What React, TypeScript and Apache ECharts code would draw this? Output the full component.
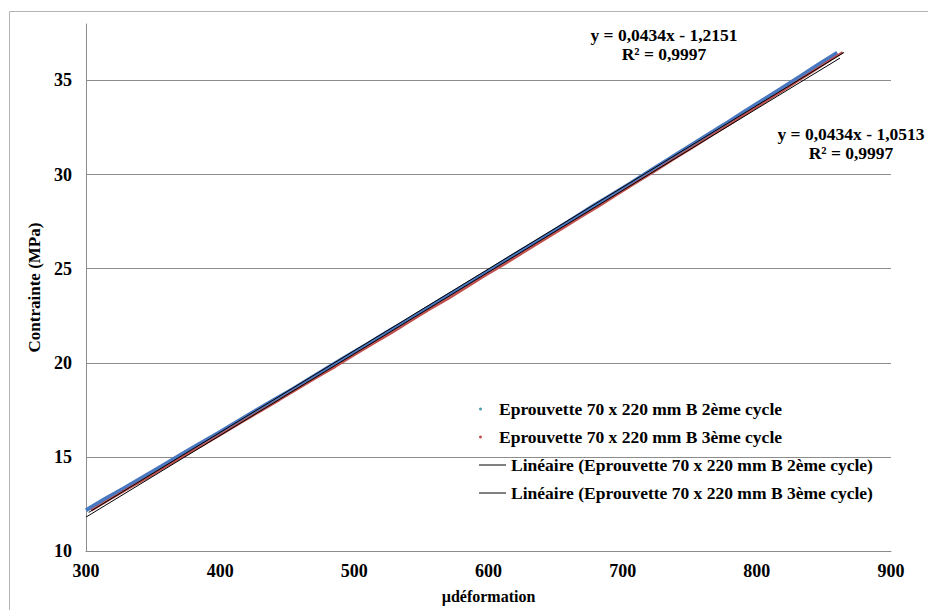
import React, { useEffect, useRef } from "react";
import * as echarts from "echarts";

// µdéformation values and stresses (MPa)
const cycle2X = [300, 314, 328, 342, 356, 370, 384, 398, 412, 426, 440, 454, 468, 482, 496, 510, 524, 538, 552, 566, 580, 594, 608, 622, 636, 650, 664, 678, 692, 706, 720, 734, 748, 762, 776, 790, 804, 818, 832, 846, 860];
const cycle2Y = [12.17, 12.76, 13.32, 13.9, 14.49, 15.09, 15.67, 16.24, 16.84, 17.44, 18.02, 18.6, 19.21, 19.82, 20.41, 21.0, 21.61, 22.2, 22.81, 23.42, 24.02, 24.62, 25.24, 25.86, 26.46, 27.07, 27.7, 28.33, 28.93, 29.54, 30.18, 30.8, 31.43, 32.05, 32.67, 33.31, 33.94, 34.56, 35.2, 35.85, 36.47];
const cycle3X = [304, 318, 332, 346, 360, 374, 388, 402, 416, 430, 444, 458, 472, 486, 500, 514, 528, 542, 556, 570, 584, 598, 612, 626, 640, 654, 668, 682, 696, 710, 724, 738, 752, 766, 780, 794, 808, 822, 836, 850, 864];
const cycle3Y = [12.16, 12.75, 13.34, 13.9, 14.5, 15.09, 15.66, 16.25, 16.85, 17.43, 18.02, 18.63, 19.22, 19.8, 20.42, 21.02, 21.6, 22.22, 22.83, 23.41, 24.03, 24.65, 25.24, 25.86, 26.48, 27.08, 27.71, 28.31, 28.94, 29.57, 30.18, 30.82, 31.43, 32.06, 32.68, 33.32, 33.95, 34.57, 35.22, 35.86, 36.5];
// linear trend line endpoints
const trend2X = [300, 862];
const trend2Y = [11.8, 36.19];
const trend3X = [302, 865];
const trend3Y = [12.05, 36.49];

const seriesNames = [
  "Eprouvette 70 x 220 mm B 2ème cycle",
  "Eprouvette 70 x 220 mm B 3ème cycle",
  "Linéaire (Eprouvette 70 x 220 mm B 2ème cycle)",
  "Linéaire (Eprouvette 70 x 220 mm B 3ème cycle)",
];
const equations = [
  ["y = 0,0434x - 1,2151", "R² = 0,9997"],
  ["y = 0,0434x - 1,0513", "R² = 0,9997"],
];
const xTicks = { min: 300, max: 900, interval: 100 };
const yTicks = { min: 10, max: 38, interval: 5 };

const FONT = "Liberation Serif";

function pairs(xs: number[], ys: number[]) {
  return xs.map((x, i) => [x, ys[i]]);
}

export default function App() {
  const ref = useRef<HTMLDivElement>(null);
  useEffect(() => {
    if (!ref.current) return;
    const chart = echarts.init(ref.current, null, { renderer: "svg" });
    const textBase = { fontFamily: FONT, fontWeight: "bold" as const, fontSize: 16, color: "#000" };
    const eq = (text: string, x: number, y: number) => ({
      type: "text",
      x,
      y,
      style: { text, fontFamily: FONT, fontWeight: "bold", fontSize: 17.5, fill: "#000", align: "center", verticalAlign: "middle" },
    });
    chart.setOption({
      animation: false,
      backgroundColor: "#fff",
      textStyle: { fontFamily: FONT },
      grid: { left: 86, top: 24, right: 37, bottom: 59, containLabel: false },
      xAxis: {
        type: "value",
        min: xTicks.min,
        max: xTicks.max,
        interval: xTicks.interval,
        name: "µdéformation",
        nameLocation: "middle",
        nameGap: 37,
        nameTextStyle: { ...textBase },
        axisLine: { show: true, lineStyle: { color: "#8c8c8c", width: 1 } },
        axisTick: { show: false },
        axisLabel: { ...textBase, fontSize: 18, margin: 11 },
        splitLine: { show: false },
      },
      yAxis: {
        type: "value",
        min: yTicks.min,
        max: yTicks.max,
        interval: yTicks.interval,
        name: "Contrainte (MPa)",
        nameLocation: "middle",
        nameGap: 34,
        nameRotate: 90,
        nameTextStyle: { ...textBase, fontSize: 17 },
        axisLine: { show: true, lineStyle: { color: "#8c8c8c", width: 1 } },
        axisTick: { show: false },
        axisLabel: {
          ...textBase,
          fontSize: 18,
          margin: 14,
          formatter: (v: number) => (v % 5 === 0 ? String(v) : ""),
        },
        splitLine: { show: true, showMinLine: false, showMaxLine: false, lineStyle: { color: "#8c8c8c", width: 1 } },
      },
      legend: [
        {
          data: [
            { name: seriesNames[0], icon: "circle" },
            { name: seriesNames[1], icon: "circle" },
          ],
          orient: "vertical",
          left: 474,
          top: 395,
          itemWidth: 27,
          itemHeight: 3,
          itemGap: 10,
          textStyle: { ...textBase, fontSize: 17.5, lineHeight: 17.5 },
          selectedMode: false,
        },
        {
          data: [
            { name: seriesNames[2], icon: "rect" },
            { name: seriesNames[3], icon: "rect" },
          ],
          orient: "vertical",
          left: 474,
          top: 451,
          itemWidth: 27,
          itemHeight: 1,
          itemGap: 10,
          textStyle: { ...textBase, fontSize: 17.5, lineHeight: 17.5 },
          selectedMode: false,
        },
      ],
      series: [
        { name: seriesNames[0], type: "line", data: pairs(cycle2X, cycle2Y), showSymbol: false, symbol: "circle", color: "#4a9ab0", lineStyle: { color: "#4a78c0", width: 4 }, z: 2 },
        { name: seriesNames[1], type: "line", data: pairs(cycle3X, cycle3Y), showSymbol: false, symbol: "circle", color: "#c0504d", lineStyle: { color: "#c0504d", width: 2.5 }, z: 3 },
        { name: seriesNames[2], type: "line", data: pairs(trend2X, trend2Y), showSymbol: false, color: "#000", lineStyle: { color: "#000", width: 1 }, z: 4 },
        { name: seriesNames[3], type: "line", data: pairs(trend3X, trend3Y), showSymbol: false, color: "#000", lineStyle: { color: "#000", width: 1 }, z: 4 },
      ],
      graphic: [
        { type: "rect", shape: { x: 9.5, y: 11.5, width: 1000, height: 1000 }, style: { fill: "none", stroke: "#b4b4b4", lineWidth: 1 }, silent: true, z: -1 },
        eq(equations[0][0], 664, 35),
        eq(equations[0][1], 664, 54),
        eq(equations[1][0], 851, 134),
        eq(equations[1][1], 851, 153),
      ],
    });
    return () => chart.dispose();
  }, []);
  return <div ref={ref} style={{ position: "fixed", left: 0, top: 0, width: 928, height: 610, background: "#fff" }} />;
}
